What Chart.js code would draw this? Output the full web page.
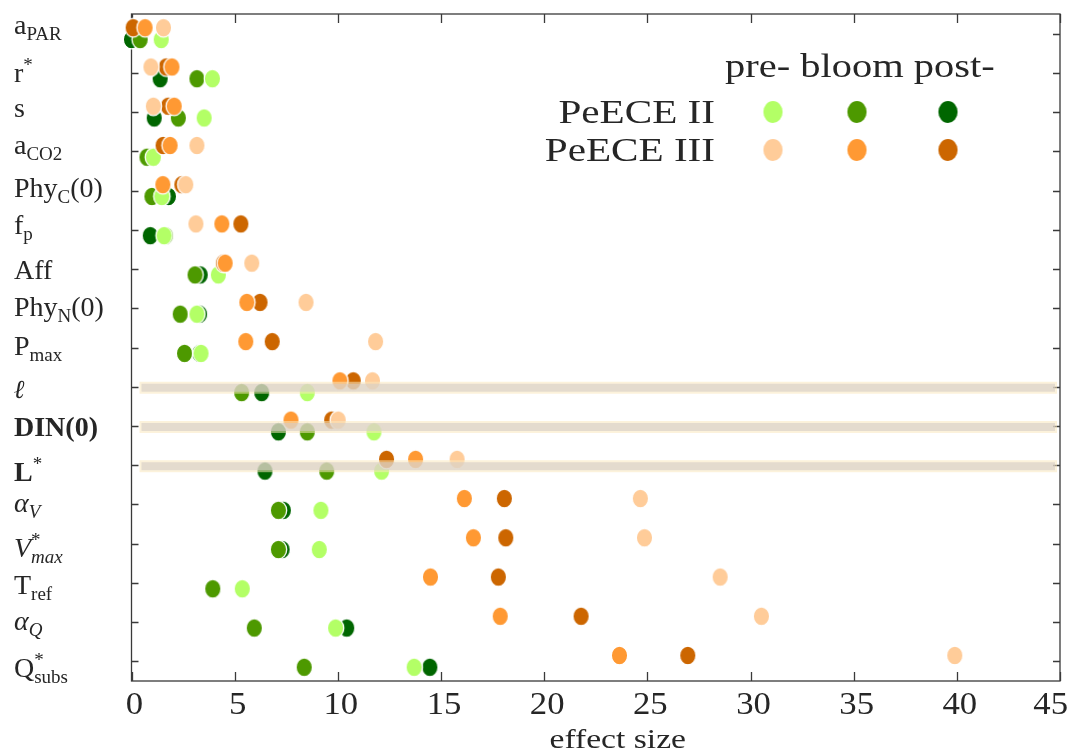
<!DOCTYPE html>
<html>
<head>
<meta charset="utf-8">
<script src="https://cdn.jsdelivr.net/npm/chart.js@4"></script>
<style>
  html, body { margin: 0; padding: 0; background: #fff; }
  canvas { display: block; }
</style>
</head>
<body>
<canvas id="effectChart" width="1072" height="752"></canvas>
<script>
// parameter labels, top to bottom; each is a list of [text, style] pieces
const paramLabels = [
    [['a'], ['PAR', 'sub']],
    [['r'], ['*', 'sup']],
    [['s']],
    [['a'], ['CO2', 'sub']],
    [['Phy'], ['C', 'sub'], ['(0)']],
    [['f'], ['p', 'sub']],
    [['Aff']],
    [['Phy'], ['N', 'sub'], ['(0)']],
    [['P'], ['max', 'sub']],
    [['\u2113', 'bi']],
    [['DIN(0)', 'b']],
    [['L', 'b'], ['*', 'sup']],
    [['\u03b1', 'i'], ['V', 'subi']],
    [['V', 'i'], ['*', 'supk'], ['max', 'subi']],
    [['T'], ['ref', 'sub']],
    [['\u03b1', 'i'], ['Q', 'subi']],
    [['Q'], ['*', 'supk'], ['subs', 'sub']]
];

// rows with a highlight band (l, DIN(0), L*)
const highlightRows = [9, 10, 11];

const xTickValues = [0, 5, 10, 15, 20, 25, 30, 35, 40, 45];
const phaseNames = ['pre-', 'bloom', 'post-'];
const campaignNames = ['PeECE II', 'PeECE III'];

// effect sizes, PeECE II
const iiPre   = [1.44, 3.92, 3.52, 1.06, 1.47, 1.58, 4.21, 3.17, 3.37, 8.52, 11.75, 12.12, 9.18, 9.10, 5.37, 9.89, 13.70];
const iiBloom = [0.42, 3.17, 2.27, 0.75, 0.99, 1.65, 3.08, 2.36, 2.57, 5.34, 8.52, 9.46, 7.12, 7.12, 3.94, 5.95, 8.37];
const iiPost  = [0.00, 1.39, 1.10, 1.05, 1.79, 0.91, 3.33, 3.30, 3.30, 6.31, 7.12, 6.47, 7.36, 7.30, 3.94, 10.43, 14.46];

// effect sizes, PeECE III
const iiiPre   = [1.55, 0.94, 1.06, 3.17, 2.63, 3.12, 5.83, 8.46, 11.83, 11.68, 10.02, 15.78, 24.66, 24.86, 28.53, 30.53, 39.90];
const iiiBloom = [0.66, 1.96, 2.07, 1.87, 1.52, 4.38, 4.54, 5.59, 5.54, 10.10, 7.73, 13.77, 16.13, 16.57, 14.49, 17.87, 23.65];
const iiiPost  = [0.08, 1.68, 1.78, 1.53, 2.44, 5.30, 4.45, 6.23, 6.82, 10.75, 9.70, 12.36, 18.07, 18.14, 17.78, 21.79, 26.96];

const greens  = ['#b3ff66', '#4d9900', '#006600'];
const oranges = ['#ffcc99', '#ff9933', '#cc6600'];

const TEXT_COLOR = '#262626';
const AXIS_COLOR = '#3a3a3a';
const SERIF = '"Liberation Serif", "DejaVu Serif", serif';

// slightly tall elliptical marker with a thin white rim
function makeDot(color, rx, ry) {
    const c = document.createElement('canvas');
    c.width = Math.ceil(rx * 2 + 4);
    c.height = Math.ceil(ry * 2 + 4);
    const g = c.getContext('2d');
    g.beginPath();
    g.ellipse(c.width / 2, c.height / 2, rx, ry, 0, 0, Math.PI * 2);
    g.fillStyle = color;
    g.fill();
    g.lineWidth = 1.3;
    g.strokeStyle = '#ffffff';
    g.stroke();
    return c;
}

function toPoints(values, shift) {
    return values.map((v, i) => ({ x: v, y: i + shift }));
}

// text drawn a little wider than the stock serif face
function drawText(ctx, str, x, y, font, align, stretch) {
    ctx.save();
    ctx.font = font;
    const w = ctx.measureText(str).width * stretch;
    const x0 = align === 'right' ? x - w : align === 'center' ? x - w / 2 : x;
    ctx.translate(x0, y);
    ctx.scale(stretch, 1);
    ctx.textAlign = 'left';
    ctx.textBaseline = 'alphabetic';
    ctx.fillStyle = TEXT_COLOR;
    ctx.fillText(str, 0, 0);
    ctx.restore();
    return w;
}

const BIG = 28, SMALL = 19;
const pieceStyles = {
    n:    { font: `${BIG}px ${SERIF}`, dy: 0 },
    b:    { font: `bold ${BIG}px ${SERIF}`, dy: 0 },
    i:    { font: `italic ${BIG}px ${SERIF}`, dy: 0 },
    bi:   { font: `italic bold ${BIG - 2}px "DejaVu Serif", serif`, dy: 0 },
    sub:  { font: `${SMALL}px ${SERIF}`, dy: 6 },
    subi: { font: `italic ${SMALL}px ${SERIF}`, dy: 6 },
    sup:  { font: `${SMALL}px ${SERIF}`, dy: -11 },
    supk: { font: `${SMALL}px ${SERIF}`, dy: -11, stacked: true }
};

// lays out a label so its ink box is centred on cy
function drawParamLabel(ctx, pieces, x, cy) {
    let top = Infinity, bottom = -Infinity;
    ctx.save();
    pieces.forEach(([text, style]) => {
        const st = pieceStyles[style || 'n'];
        ctx.font = st.font;
        const m = ctx.measureText(text);
        top = Math.min(top, st.dy - m.actualBoundingBoxAscent);
        bottom = Math.max(bottom, st.dy + m.actualBoundingBoxDescent);
    });
    ctx.restore();
    const baseline = cy - (top + bottom) / 2;
    let cx = x;
    pieces.forEach(([text, style]) => {
        const st = pieceStyles[style || 'n'];
        const w = drawText(ctx, text, cx, baseline + st.dy, st.font, 'left', 1.0);
        if (!st.stacked) cx += w;
    });
}

const axisFrame = {
    id: 'axisFrame',
    beforeDatasetsDraw(chart) {
        const { ctx, chartArea: a, scales: { x, y } } = chart;
        ctx.save();
        ctx.strokeStyle = AXIS_COLOR;
        ctx.lineWidth = 1.3;
        ctx.strokeRect(a.left, a.top, a.right - a.left, a.bottom - a.top);
        ctx.beginPath();
        xTickValues.forEach(v => {
            const px = Math.round(x.getPixelForValue(v)) + 0.5;
            ctx.moveTo(px, a.bottom); ctx.lineTo(px, a.bottom - 9);
            ctx.moveTo(px, a.top); ctx.lineTo(px, a.top + 9);
        });
        paramLabels.forEach((_, i) => {
            const py = Math.round(y.getPixelForValue(i)) + 0.5;
            ctx.moveTo(a.left, py); ctx.lineTo(a.left + 7, py);
            ctx.moveTo(a.right, py); ctx.lineTo(a.right - 7, py);
        });
        ctx.stroke();
        ctx.restore();
    },
    afterDatasetsDraw(chart) {
        const { ctx, chartArea: a, scales: { y } } = chart;
        ctx.save();
        highlightRows.forEach(r => {
            const py = y.getPixelForValue(r) + 1;
            ctx.fillStyle = 'rgba(250, 232, 190, 0.55)';
            ctx.fillRect(a.left + 8, py - 6, a.right - a.left - 11, 12);
            ctx.fillStyle = 'rgba(212, 204, 198, 0.6)';
            ctx.fillRect(a.left + 10, py - 4, a.right - a.left - 15, 8);
        });
        ctx.restore();
    },
    afterDraw(chart) {
        const { ctx, chartArea: a, scales: { x, y } } = chart;

        // y tick labels
        paramLabels.forEach((pieces, i) => {
            const cy = y.getPixelForValue(i) - 3 + i * 0.6;
            drawParamLabel(ctx, pieces, 14, cy);
        });

        // x tick labels
        ctx.save();
        ctx.font = `31px ${SERIF}`;
        xTickValues.forEach(v => {
            const str = String(v);
            const w = ctx.measureText(str).width * 1.12;
            let cx = x.getPixelForValue(v) + 3;
            if (cx + w / 2 > chart.width - 4) cx = chart.width - 4 - w / 2;
            drawText(ctx, str, cx, 714, `31px ${SERIF}`, 'center', 1.12);
        });
        ctx.restore();

        drawText(ctx, 'effect size', (a.left + a.right) / 2 + 22, 748, `28px ${SERIF}`, 'center', 1.2);

        // legend: phases across, campaigns down
        drawText(ctx, phaseNames.join(' '), 725, 77, `34px ${SERIF}`, 'left', 1.19);
        const legendX = [773, 857, 948];
        const legendY = [112, 150];
        campaignNames.forEach((name, r) => {
            drawText(ctx, name, 715, legendY[r] + 11, `34px ${SERIF}`, 'right', 1.21);
            const cols = r === 0 ? greens : oranges;
            cols.forEach((col, k) => {
                const img = makeDot(col, 10.3, 11.6);
                ctx.drawImage(img, legendX[k] - img.width / 2, legendY[r] - img.height / 2);
            });
        });
    }
};

const IIshift = 0.15;
const IIIshift = -0.15;

function series(label, values, shift, color, order) {
    return {
        label: label,
        data: toPoints(values, shift),
        pointStyle: makeDot(color, 8.2, 9.3),
        order: order,
        clip: false
    };
}

new Chart(document.getElementById('effectChart').getContext('2d'), {
    type: 'scatter',
    data: {
        datasets: [
            series('PeECE III pre-', iiiPre, IIIshift, oranges[0], 0),
            series('PeECE III bloom', iiiBloom, IIIshift, oranges[1], 1),
            series('PeECE III post-', iiiPost, IIIshift, oranges[2], 2),
            series('PeECE II pre-', iiPre, IIshift, greens[0], 3),
            series('PeECE II bloom', iiBloom, IIshift, greens[1], 4),
            series('PeECE II post-', iiPost, IIshift, greens[2], 5)
        ]
    },
    options: {
        responsive: false,
        devicePixelRatio: 1,
        animation: false,
        events: [],
        layout: { padding: { left: 0, right: 12, top: 14, bottom: 0 } },
        plugins: { legend: { display: false }, tooltip: { enabled: false } },
        scales: {
            x: {
                type: 'linear', min: 0, max: 45,
                ticks: { display: false, stepSize: 5 },
                grid: { display: false },
                border: { display: false },
                afterFit(scale) { scale.height = 71; }
            },
            y: {
                type: 'linear', min: -0.5, max: 16.5, reverse: true,
                ticks: { display: false },
                grid: { display: false },
                border: { display: false },
                afterFit(scale) { scale.width = 131.5; }
            }
        }
    },
    plugins: [axisFrame]
});
</script>
</body>
</html>
